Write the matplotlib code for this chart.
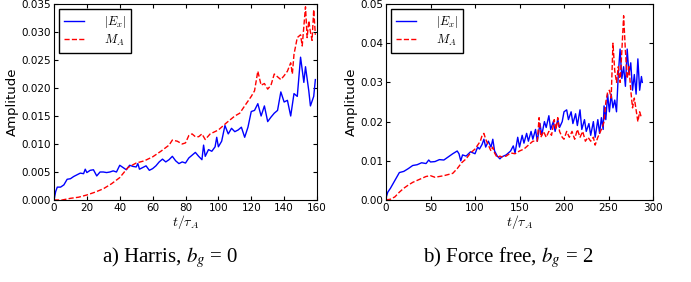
import numpy as np
import matplotlib.pyplot as plt

plt.rcParams['mathtext.fontset'] = 'cm'

# Harris, b_g = 0
t_ex_a = [0, 1, 2, 4, 6, 8, 10, 12, 14, 16, 18, 19, 20, 22, 24, 26, 28, 30, 32, 34, 36, 38, 40, 42, 44, 46,
          48, 50, 51, 52, 54, 56, 58, 60, 62, 64, 66, 68, 70, 72, 74, 76, 78, 80, 82, 84, 86, 88, 90, 91, 92,
          94, 96, 98, 99, 100, 102, 104, 106, 108, 110, 112, 114, 116, 118, 120, 122, 124, 126, 128, 130,
          132, 134, 136, 138, 140, 142, 144, 146, 148, 150, 152, 153, 155, 156, 158, 159]
ex_a = [0.0000, 0.0015, 0.0023, 0.0023, 0.0027, 0.0037, 0.0038, 0.0042, 0.0045, 0.0048, 0.0047, 0.0055,
        0.0049, 0.0053, 0.0054, 0.0043, 0.0050, 0.0050, 0.0049, 0.0050, 0.0052, 0.0050, 0.0062, 0.0058,
        0.0054, 0.0062, 0.0060, 0.0059, 0.0065, 0.0055, 0.0058, 0.0061, 0.0053, 0.0056, 0.0061, 0.0068,
        0.0073, 0.0068, 0.0072, 0.0078, 0.0070, 0.0065, 0.0068, 0.0066, 0.0075, 0.0080, 0.0085, 0.0078,
        0.0072, 0.0098, 0.0078, 0.0090, 0.0087, 0.0095, 0.0112, 0.0095, 0.0105, 0.0133, 0.0118, 0.0128,
        0.0122, 0.0125, 0.0130, 0.0112, 0.0130, 0.0158, 0.0160, 0.0172, 0.0150, 0.0168, 0.0140, 0.0148,
        0.0155, 0.0160, 0.0193, 0.0175, 0.0178, 0.0150, 0.0190, 0.0185, 0.0255, 0.0210, 0.0238, 0.0195,
        0.0168, 0.0185, 0.0215]

t_ma_a = [0, 5, 10, 15, 20, 25, 30, 35, 40, 45, 50, 55, 60, 65, 70, 72, 75, 78, 80, 82, 84, 86, 88, 90,
          92, 95, 100, 105, 110, 113, 116, 120, 122, 124, 126, 128, 130, 132, 134, 136, 138, 140, 142,
          144, 145, 146, 148, 150, 151, 152, 153, 154, 155, 156, 157, 158, 159]
ma_a = [0.0000, 0.0000, 0.0003, 0.0005, 0.0009, 0.0014, 0.0020, 0.0029, 0.0040, 0.0058, 0.0066, 0.0070,
        0.0077, 0.0087, 0.0098, 0.0107, 0.0105, 0.0100, 0.0102, 0.0115, 0.0118, 0.0113, 0.0113, 0.0118,
        0.0108, 0.0118, 0.0125, 0.0138, 0.0150, 0.0155, 0.0168, 0.0185, 0.0195, 0.0230, 0.0205, 0.0208,
        0.0198, 0.0205, 0.0225, 0.0220, 0.0215, 0.0222, 0.0230, 0.0245, 0.0225, 0.0260, 0.0290, 0.0295,
        0.0275, 0.0310, 0.0345, 0.0290, 0.0320, 0.0300, 0.0285, 0.0340, 0.0295]

# Force free, b_g = 2
t_ex_b = [0, 2, 5, 10, 15, 20, 25, 30, 35, 40, 45, 48, 50, 55, 60, 65, 70, 75, 80, 82, 84, 86, 90, 95,
          100, 103, 105, 108, 110, 112, 115, 118, 120, 122, 125, 128, 130, 135, 140, 143, 145, 148, 150,
          153, 155, 158, 160, 163, 165, 168, 170, 173, 175, 178, 180, 183, 185, 188, 190, 193, 195, 198,
          200, 203, 205, 208, 210, 213, 215, 218, 220, 223, 225, 228, 230, 233, 235, 238, 240, 242, 244,
          245, 247, 249, 251, 253, 255, 257, 259, 261, 263, 265, 267, 269, 271, 273, 275, 277, 279, 281,
          283, 285, 287, 288]
ex_b = [0.0005, 0.0020, 0.0030, 0.0050, 0.0070, 0.0073, 0.0080, 0.0088, 0.0090, 0.0095, 0.0093, 0.0102,
        0.0097, 0.0098, 0.0103, 0.0102, 0.0110, 0.0118, 0.0125, 0.0118, 0.0100, 0.0115, 0.0112, 0.0123,
        0.0118, 0.0135, 0.0130, 0.0142, 0.0155, 0.0135, 0.0150, 0.0135, 0.0155, 0.0125, 0.0112, 0.0105,
        0.0110, 0.0115, 0.0125, 0.0138, 0.0120, 0.0160, 0.0135, 0.0165, 0.0145, 0.0170, 0.0150, 0.0175,
        0.0155, 0.0180, 0.0150, 0.0195, 0.0165, 0.0200, 0.0185, 0.0215, 0.0180, 0.0200, 0.0175, 0.0205,
        0.0185, 0.0200, 0.0225, 0.0230, 0.0205, 0.0225, 0.0195, 0.0220, 0.0190, 0.0230, 0.0180, 0.0205,
        0.0175, 0.0195, 0.0165, 0.0200, 0.0160, 0.0205, 0.0170, 0.0210, 0.0180, 0.0240, 0.0205, 0.0270,
        0.0225, 0.0270, 0.0235, 0.0255, 0.0225, 0.0320, 0.0385, 0.0310, 0.0340, 0.0290, 0.0385, 0.0320,
        0.0350, 0.0280, 0.0320, 0.0270, 0.0360, 0.0280, 0.0315, 0.0300]

t_ma_b = [0, 5, 10, 15, 20, 25, 30, 35, 40, 45, 50, 55, 60, 65, 70, 75, 80, 85, 90, 95, 100, 103, 106,
          108, 110, 112, 115, 118, 120, 122, 125, 128, 130, 135, 140, 145, 150, 155, 160, 165, 170, 172,
          174, 177, 180, 183, 186, 189, 191, 193, 195, 198, 200, 203, 206, 209, 212, 215, 218, 221, 224,
          227, 230, 233, 235, 238, 240, 243, 245, 247, 249, 251, 253, 255, 257, 259, 261, 263, 265, 267,
          269, 271, 273, 275, 277, 279, 281, 283, 285, 287]
ma_b = [0.0000, 0.0002, 0.0008, 0.0020, 0.0030, 0.0038, 0.0045, 0.0050, 0.0055, 0.0060, 0.0062, 0.0058,
        0.0060, 0.0062, 0.0065, 0.0068, 0.0080, 0.0095, 0.0105, 0.0120, 0.0130, 0.0140, 0.0150, 0.0165,
        0.0170, 0.0155, 0.0140, 0.0125, 0.0135, 0.0120, 0.0108, 0.0112, 0.0110, 0.0112, 0.0120, 0.0118,
        0.0125, 0.0130, 0.0140, 0.0150, 0.0150, 0.0210, 0.0160, 0.0175, 0.0160, 0.0175, 0.0165, 0.0205,
        0.0180, 0.0210, 0.0175, 0.0160, 0.0155, 0.0175, 0.0160, 0.0175, 0.0155, 0.0180, 0.0160, 0.0175,
        0.0150, 0.0160, 0.0150, 0.0160, 0.0140, 0.0160, 0.0170, 0.0185, 0.0200, 0.0250, 0.0275, 0.0280,
        0.0260, 0.0400, 0.0330, 0.0300, 0.0340, 0.0300, 0.0380, 0.0470, 0.0380, 0.0310, 0.0340, 0.0280,
        0.0235, 0.0260, 0.0230, 0.0200, 0.0225, 0.0210]

captions = [r'a) Harris, $b_g$ = 0', r'b) Force free, $b_g$ = 2']

fig = plt.figure(figsize=(6.91, 2.82), dpi=100)
ax1 = fig.add_axes([54 / 691, 82 / 282, 263 / 691, 196 / 282])
ax2 = fig.add_axes([386 / 691, 82 / 282, 267 / 691, 196 / 282])

panels = [
    (ax1, t_ex_a, ex_a, t_ma_a, ma_a, 160, 0.035, '%.3f'),
    (ax2, t_ex_b, ex_b, t_ma_b, ma_b, 300, 0.05, '%.2f'),
]

for ax, tx, ex, tm, ma, xmax, ymax, fmt in panels:
    ax.plot(tx, ex, 'b-', lw=1.0, label=r'$|E_x|$')
    ax.plot(tm, ma, 'r--', lw=1.0, label=r'$M_A$')
    ax.set_xlim(0, xmax)
    ax.set_ylim(0, ymax)
    ax.yaxis.set_major_formatter(plt.FormatStrFormatter(fmt))
    ax.tick_params(direction='in', top=True, right=True, labelsize=7.5, length=3, pad=2)
    ax.set_xlabel(r'$t/\tau_A$', fontsize=10, labelpad=0)
    ax.set_ylabel('Amplitude', fontsize=9.5, labelpad=2)
    leg = ax.legend(loc='upper left', fontsize=9, fancybox=False, framealpha=1,
                    handlelength=1.6, handletextpad=1.6, borderaxespad=0.4,
                    labelspacing=0.2)
    leg.get_frame().set_edgecolor('black')

for cap, cx in zip(captions, [170, 508]):
    fig.text(cx / 691, 24 / 282, cap, ha='center', va='center', fontsize=15,
             family='Liberation Serif', math_fontfamily='stix')

fig.savefig('out.png', dpi=100)
